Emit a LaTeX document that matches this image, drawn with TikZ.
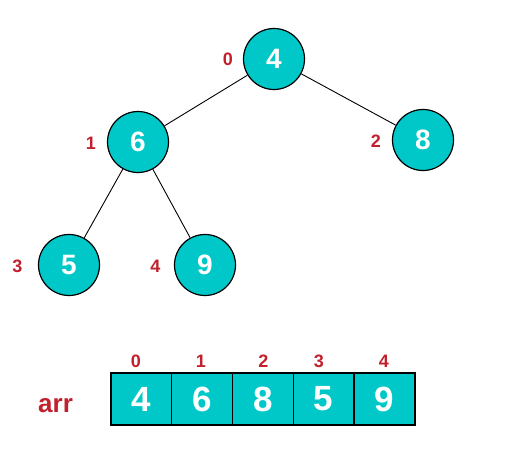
\documentclass[tikz,border=0pt]{standalone}
\usepackage{fontspec}
\setmainfont{Liberation Sans}
\definecolor{teal1}{RGB}{0,200,200}
\definecolor{red1}{RGB}{193,32,45}
\begin{document}
\begin{tikzpicture}[x=1pt,y=-1pt,
  heapnode/.style={circle,draw=black,line width=1.2pt,fill=teal1,minimum size=61pt,inner sep=0pt,
    text=white,font=\bfseries\fontsize{28}{30}\selectfont},
  idxlabel/.style={text=red1,font=\bfseries\fontsize{18}{20}\selectfont,inner sep=0pt},
  cell/.style={rectangle,draw=black,line width=1.2pt,fill=teal1,minimum width=61pt,minimum height=52pt,inner sep=0pt,
    text=white,font=\bfseries\fontsize{35}{38}\selectfont},
  edge/.style={draw=black,line width=0.9pt}]
\useasboundingbox (0,0) rectangle (514,458);
% tree
\node[heapnode] (n0) at (274,59) {4};
\node[heapnode] (n1) at (138,142) {6};
\node[heapnode] (n2) at (423,140) {8};
\node[heapnode] (n3) at (69,265) {5};
\node[heapnode] (n4) at (205,265) {9};
\draw[edge] (n0) -- (n1);
\draw[edge] (n0) -- (n2);
\draw[edge] (n1) -- (n3);
\draw[edge] (n1) -- (n4);
\node[idxlabel] (l0) at (228,59) {0};
\node[idxlabel] (l1) at (91,143) {1};
\node[idxlabel] (l2) at (376,141) {2};
\node[idxlabel] (l3) at (17.5,266) {3};
\node[idxlabel] (l4) at (155.5,266) {4};
% array
\node[cell] (c0) at (141.5,399) {4};
\node[cell] (c1) at (202,399) {6};
\node[cell] (c2) at (263,399) {8};
\node[cell] (c3) at (323.7,399) {5};
\node[cell] (c4) at (384.5,399) {9};
\node[idxlabel] (a0) at (136,361) {0};
\node[idxlabel] (a1) at (201,361) {1};
\node[idxlabel] (a2) at (263.5,361) {2};
\node[idxlabel] (a3) at (319,361) {3};
\node[idxlabel] (a4) at (384,361) {4};
\node[text=red1,font=\bfseries\fontsize{26}{28}\selectfont,inner sep=0pt,anchor=base west] (arr) at (38,412) {arr};
\end{tikzpicture}
\end{document}
